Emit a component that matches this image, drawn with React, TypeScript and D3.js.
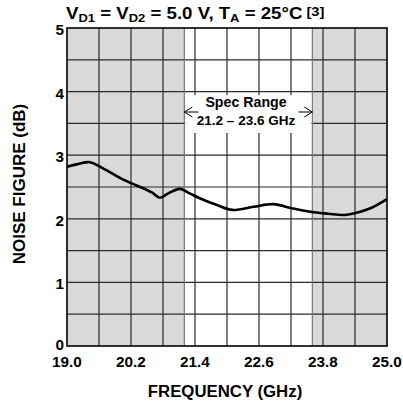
import React from 'react';
import * as d3 from 'd3';

// noise figure curve
const freqGHz = [19.0, 19.2, 19.43, 19.7, 20.0, 20.2, 20.43, 20.6, 20.74, 20.9, 21.12, 21.3, 21.5, 21.8, 22.1, 22.5, 22.87, 23.2, 23.56, 23.9, 24.2, 24.45, 24.7, 25.0];
const noiseFigure = [2.82, 2.86, 2.89, 2.78, 2.64, 2.56, 2.48, 2.41, 2.33, 2.4, 2.47, 2.4, 2.32, 2.22, 2.14, 2.19, 2.23, 2.17, 2.11, 2.08, 2.06, 2.1, 2.17, 2.31];

const xTicks = [19.0, 20.2, 21.4, 22.6, 23.8, 25.0];
const yTicks = [0, 1, 2, 3, 4, 5];
const specRange = [21.2, 23.6];

const W = 403;
const H = 405;
const margin = { top: 28, right: 16, bottom: 59, left: 67 };
const FONT = '"Liberation Sans", Arial, sans-serif';

const App = () => {
  const innerW = W - margin.left - margin.right;
  const innerH = H - margin.top - margin.bottom;

  const x = d3.scaleLinear().domain([19, 25]).range([margin.left, margin.left + innerW]);
  const y = d3.scaleLinear().domain([0, 5]).range([margin.top + innerH, margin.top]);

  // grid every 0.6 GHz and every 0.5 dB
  const xGrid = d3.range(1, 10).map((i) => 19 + i * 0.6);
  const yGrid = d3.range(1, 10).map((i) => i * 0.5);

  const line = d3
    .line<number>()
    .x((d, i) => x(freqGHz[i]))
    .y((d) => y(d))
    .curve(d3.curveCatmullRom.alpha(0.5));

  const top = y(5);
  const bottom = y(0);
  const left = x(19);
  const right = x(25);
  const sx0 = x(specRange[0]);
  const sx1 = x(specRange[1]);
  const arrowY = 112;

  return (
    <svg width={W} height={H} style={{ position: 'absolute', left: 0, top: 0, background: '#fff' }} fontFamily={FONT} fontWeight="bold">
      {/* out of spec shading */}
      <rect x={left} y={top} width={sx0 - left} height={bottom - top} fill="#d9d9d9" />
      <rect x={sx1} y={top} width={right - sx1} height={bottom - top} fill="#d9d9d9" />

      {xGrid.map((d) => (
        <line key={'gx' + d} x1={x(d)} x2={x(d)} y1={top} y2={bottom} stroke="#2a2a2a" strokeWidth={1.2} />
      ))}
      {yGrid.map((d) => (
        <line key={'gy' + d} x1={left} x2={right} y1={y(d)} y2={y(d)} stroke="#2a2a2a" strokeWidth={1.2} />
      ))}
      {specRange.map((d) => (
        <line key={'s' + d} x1={x(d)} x2={x(d)} y1={top} y2={bottom} stroke="#777" strokeWidth={1.2} />
      ))}

      {/* spec range label */}
      <rect x={sx0 + 1} y={95} width={sx1 - sx0 - 2} height={38} fill="#fff" />
      <g stroke="#000" strokeWidth={1} fill="none">
        <path d={`M${sx0 + 8},${arrowY - 5} L${sx0},${arrowY} L${sx0 + 8},${arrowY + 5}`} />
        <line x1={sx0} x2={sx0 + 14} y1={arrowY} y2={arrowY} />
        <path d={`M${sx1 - 8},${arrowY - 5} L${sx1},${arrowY} L${sx1 - 8},${arrowY + 5}`} />
        <line x1={sx1 - 14} x2={sx1} y1={arrowY} y2={arrowY} />
      </g>
      <text x={246} y={107} textAnchor="middle" fontSize={14.2}>Spec Range</text>
      <text x={246} y={125} textAnchor="middle" fontSize={13.5}>21.2 – 23.6 GHz</text>

      <path d={line(noiseFigure) || ''} fill="none" stroke="#000" strokeWidth={2.6} />

      <rect x={left} y={top} width={right - left} height={bottom - top} fill="none" stroke="#000" strokeWidth={1.6} />

      {xTicks.map((d) => (
        <text key={'xt' + d} x={x(d)} y={367} textAnchor="middle" fontSize={15.3}>{d.toFixed(1)}</text>
      ))}
      {yTicks.map((d) => (
        <text key={'yt' + d} x={margin.left - 3} y={y(d) + (d === 0 ? -2 : 1.5)} dy="0.36em" textAnchor="end" fontSize={15.3}>{d}</text>
      ))}

      <text x={225} y={397} textAnchor="middle" fontSize={16.8}>FREQUENCY (GHz)</text>
      <text transform={`translate(25,184) rotate(-90)`} textAnchor="middle" fontSize={17}>NOISE FIGURE (dB)</text>

      <g transform="translate(66,18.5) scale(1.13,1)">
        <text x={0} y={0} fontSize={16.5}>
          V<tspan fontSize={11.5} dy={3.5}>D1</tspan>
          <tspan dy={-3.5}> = V</tspan>
          <tspan fontSize={11.5} dy={3.5}>D2</tspan>
          <tspan dy={-3.5}> = 5.0 V, T</tspan>
          <tspan fontSize={11.5} dy={3.5}>A</tspan>
          <tspan dy={-3.5}> = 25°C</tspan>
          <tspan fontSize={13} dy={-3}> [3]</tspan>
        </text>
      </g>
    </svg>
  );
};

export default App;
